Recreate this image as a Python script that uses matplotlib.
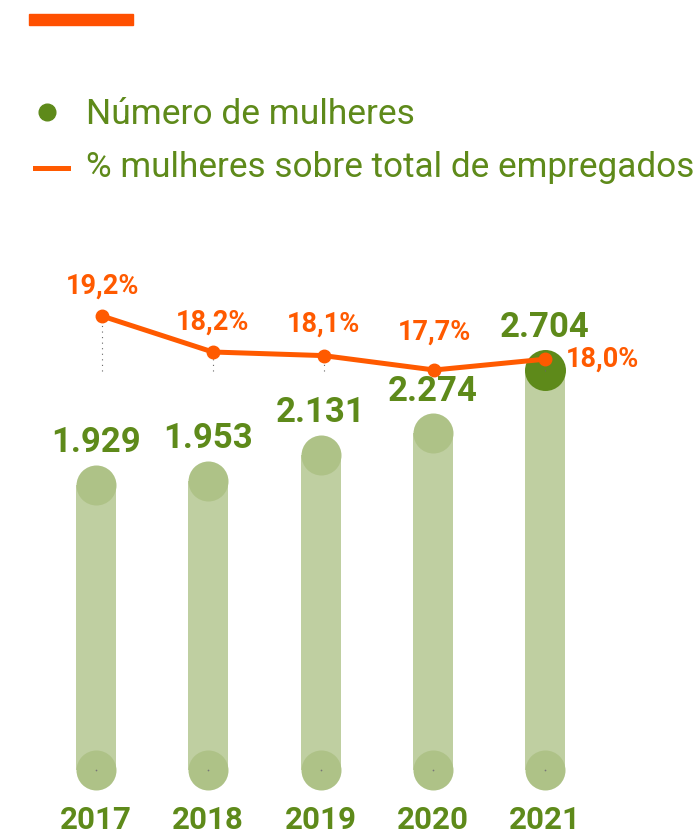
import matplotlib
matplotlib.use("Agg")
import matplotlib.pyplot as plt
from matplotlib.patches import Rectangle
from matplotlib.lines import Line2D

years = ["2017", "2018", "2019", "2020", "2021"]
women = [1929, 1953, 2131, 2274, 2704]
women_labels = ["1.929", "1.953", "2.131", "2.274", "2.704"]
pct = [19.2, 18.2, 18.1, 17.7, 18.0]
pct_labels = ["19,2%", "18,2%", "18,1%", "17,7%", "18,0%"]

green = "#5e8a1a"
bar_col = "#bfcfa1"
cap_col = "#aec287"
orange = "#ff5a00"
fam = ["Roboto", "DejaVu Sans"]

W, H = 698, 835
fig = plt.figure(figsize=(W / 100, H / 100), dpi=100)

# bars axis: index 0 at x=96px, step 112.25px; value 0 at y=770px from top
ax = fig.add_axes([0, 0, 1, 1])
step = 112.25
ax.set_xlim(-96 / step, (W - 96) / step)
upp = 1 / 0.148
ax.set_ylim(-65 * upp, (H - 65) * upp)
ax.axis("off")

idx = list(range(len(years)))
ax.bar(idx, women, width=40 / step, color=bar_col, zorder=1)
ax.scatter(idx, [0] * len(idx), s=(40 * 0.72) ** 2, color=cap_col, zorder=2, linewidths=0)
ax.scatter(idx[:-1], women[:-1], s=(40 * 0.72) ** 2, color=cap_col, zorder=2, linewidths=0)
ax.scatter(idx[-1:], women[-1:], s=(41 * 0.72) ** 2, color=green, zorder=2, linewidths=0)
ax.scatter(idx, [0] * len(idx), s=1.5, color="#777777", zorder=3, linewidths=0)

for i in idx:
    ax.annotate(women_labels[i], (i, women[i]), xytext=(0, 42 * 0.72), textcoords="offset points",
                ha="center", va="center", fontsize=25, fontweight="bold", color=green, family=fam)
    ax.annotate(years[i], (i, 0), xytext=(0, -50 * 0.72), textcoords="offset points",
                ha="center", va="center", fontsize=22.5, fontweight="bold", color=green, family=fam)

# line axis: index 0 at x=102px, step 110.75px; 17.7 at y=370px from top
ax2 = fig.add_axes([0, 0, 1, 1], facecolor="none")
step2 = 110.75
ax2.set_xlim(-102 / step2, (W - 102) / step2)
ax2.set_ylim(17.7 - 465 / 36, 17.7 + 370 / 36)
ax2.axis("off")

base = 17.7 - 1 / 36
ax2.vlines(idx, base, pct, colors="#666666", linestyles=(0, (1, 4)), linewidth=0.8, zorder=3)
ax2.plot(idx, pct, color=orange, linewidth=3.6, marker="o", markersize=9, zorder=4)

offsets = [30, 30, 31, 38]
for i in idx[:-1]:
    ax2.annotate(pct_labels[i], (i, pct[i]), xytext=(0, offsets[i] * 0.72),
                 textcoords="offset points", ha="center", va="center", fontsize=19.5,
                 fontweight="bold", color=orange, family=fam)
ax2.annotate(pct_labels[-1], (idx[-1], pct[-1]), xytext=(21 * 0.72, 0), textcoords="offset points",
             ha="left", va="center", fontsize=19.5, fontweight="bold", color=orange, family=fam)

# header bar and legend
fig.patches.append(Rectangle((29 / W, 1 - 25 / H), 104 / W, 11 / H, transform=fig.transFigure,
                             color="#ff5000", zorder=5))
fig.lines.append(Line2D([47 / W], [1 - 112 / H], marker="o", markersize=12, color=green,
                        linestyle="none", transform=fig.transFigure))
fig.lines.append(Line2D([35 / W, 68 / W], [1 - 168 / H, 1 - 168 / H], color=orange, linewidth=3.6,
                        transform=fig.transFigure))
fig.text(86 / W, 1 - 114 / H, "Número de mulheres", ha="left", va="center", fontsize=25.5,
         color=green, family=fam)
fig.text(86 / W, 1 - 168 / H, "% mulheres sobre total de empregados", ha="left", va="center",
         fontsize=25.3, color=green, family=fam)

fig.savefig("out.png", dpi=100)
